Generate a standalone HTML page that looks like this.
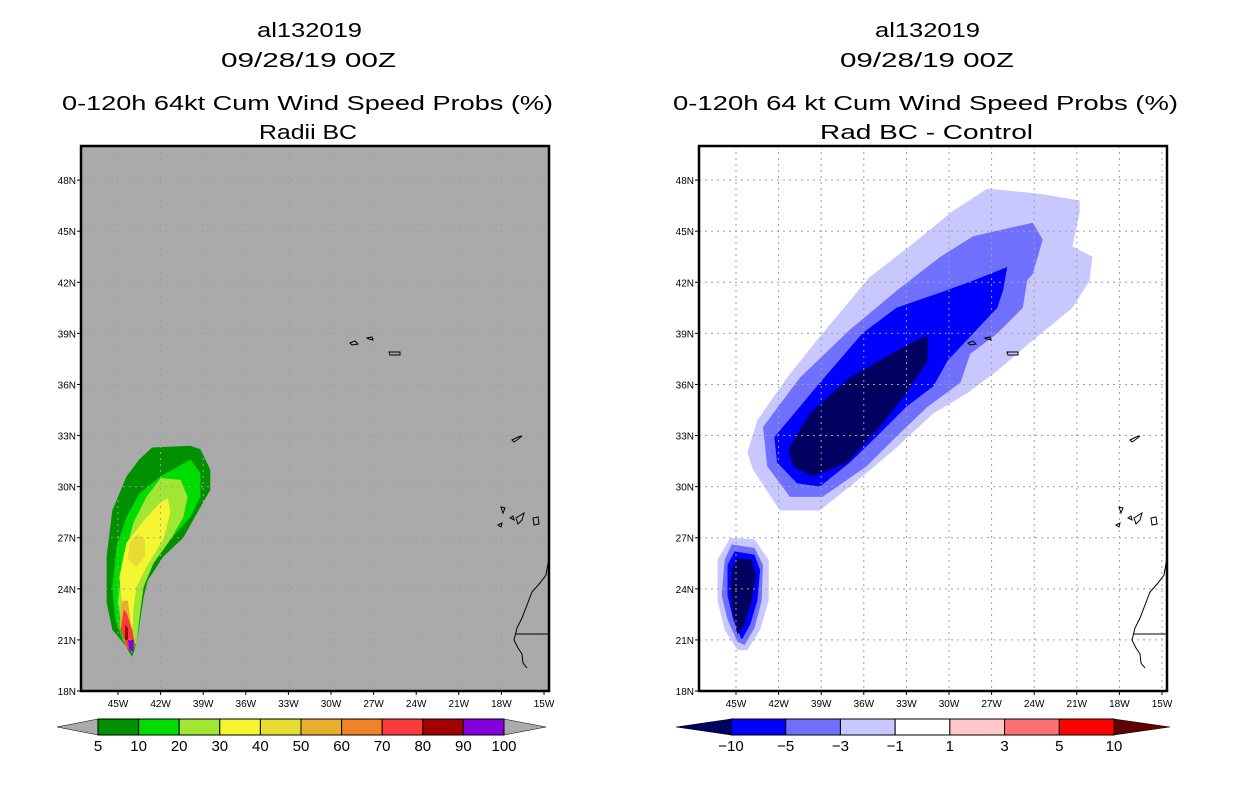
<!DOCTYPE html>
<html><head><meta charset="utf-8"><style>
html,body{margin:0;padding:0;background:#fff;}
svg{display:block;font-family:"Liberation Sans",sans-serif;}
</style></head><body>
<svg id="chart" width="1236" height="800" viewBox="0 0 1236 800" xmlns="http://www.w3.org/2000/svg"></svg>
<script>
// ---------- data ----------
const latTicks = [18,21,24,27,30,33,36,39,42,45,48];
const lonTicks = [45,42,39,36,33,30,27,24,21,18,15];
const leftLevels = ["5","10","20","30","40","50","60","70","80","90","100"];
const leftColors = ["#009000","#00dc00","#a0e632","#f5f532","#e6dc32","#e6af2d","#f08228","#fa3c3c","#a00000","#8200dc"];
const rightLevels = ["-10","-5","-3","-1","1","3","5","10"];
const rightColors = ["#0000ff","#7070ff","#c8c8ff","#ffffff","#ffc8c8","#ff7070","#ff0000"];
// contour polygons, [lonW, latN]
const p5 = [[42.6,32.3],[39.9,32.4],[39.2,32.2],[38.5,31.0],[38.5,29.8],[39.2,28.8],[40.4,27.0],[41.8,25.9],[42.9,24.5],[43.2,23.5],[43.5,21.8],[43.7,20.8],[44.0,20.0],[44.6,20.8],[45.4,21.6],[45.8,23.2],[45.8,25.9],[45.4,28.6],[44.4,30.6],[43.5,31.6]];
const p10 = [[42.0,30.6],[39.9,31.6],[39.2,30.8],[39.2,29.4],[39.9,28.2],[41.3,26.9],[42.5,25.5],[43.1,24.7],[43.3,23.5],[43.5,22.0],[43.7,20.8],[44.0,20.2],[44.7,21.0],[45.2,22.2],[45.4,24.1],[45.1,26.5],[44.4,28.2],[43.5,29.6]];
const p20 = [[42.0,30.5],[40.6,30.4],[40.1,29.4],[40.4,28.2],[41.3,26.9],[42.5,25.5],[43.2,24.1],[43.5,22.3],[43.7,20.8],[44.2,20.6],[44.7,21.6],[45.0,23.2],[44.7,25.5],[43.9,27.9],[43.0,29.4]];
const p30 = [[41.5,29.3],[41.3,28.5],[41.8,26.9],[43.0,25.3],[43.7,24.1],[43.9,22.9],[44.0,21.6],[44.4,21.6],[44.7,22.9],[44.9,24.7],[44.4,26.7],[43.2,28.0],[42.0,29.1]];
const p40 = [[43.6,27.2],[43.1,26.9],[43.1,25.9],[43.7,25.3],[44.3,25.7],[44.2,26.7]];
const p50 = [[44.7,23.3],[44.3,23.3],[44.1,21.9],[43.9,20.7],[44.4,20.5],[44.9,21.9]];
const p70 = [[44.6,22.8],[44.4,22.6],[44.0,21.6],[43.8,20.7],[44.3,20.4],[44.8,21.6]];
const p80 = [[44.5,21.9],[44.3,21.7],[44.3,21.0],[44.5,21.0]];
const p90 = [[44.3,21.0],[43.9,21.0],[43.9,20.3],[44.2,20.4]];
const n1 = [[44.2,32.0],[43.5,33.9],[41.4,36.4],[39.3,38.6],[35.6,42.3],[32.5,44.3],[29.7,46.2],[27.3,47.5],[23.6,47.2],[20.8,46.8],[20.8,46.1],[21.3,44.1],[19.9,43.5],[20.1,42.1],[21.3,40.5],[24.1,38.6],[26.6,36.8],[28.7,35.5],[31.1,34.3],[33.7,32.3],[35.8,30.8],[39.1,28.6],[41.9,28.6],[43.8,31.0]];
const n3 = [[43.1,33.5],[40.5,36.4],[37.0,39.2],[33.7,41.5],[30.6,43.5],[28.3,44.7],[24.1,45.5],[23.4,44.5],[24.1,42.5],[24.5,42.1],[24.8,40.5],[26.6,39.0],[28.5,37.8],[29.2,36.1],[31.5,34.7],[33.5,33.1],[35.8,31.2],[38.9,29.4],[41.2,29.4],[42.8,31.2]];
const n5 = [[42.3,32.9],[39.3,35.9],[36.1,39.0],[33.7,40.5],[30.6,41.4],[28.3,42.1],[25.9,42.9],[26.2,41.5],[26.6,40.5],[28.3,39.0],[30.1,37.4],[31.1,35.9],[33.0,34.7],[34.9,33.1],[37.0,31.4],[39.1,30.0],[40.7,30.2],[42.1,31.4]];
const n10 = [[41.3,32.2],[39.8,34.3],[37.0,36.4],[33.2,38.2],[31.5,38.9],[31.5,37.4],[33.0,35.5],[34.9,33.5],[37.2,31.4],[39.6,30.6],[41.0,31.2]];
const b1 = [[45.4,27.0],[43.7,26.9],[42.7,25.7],[42.7,23.3],[43.3,21.6],[44.2,20.4],[44.9,20.4],[45.8,21.6],[46.3,23.3],[46.3,25.7]];
const b3 = [[45.3,26.6],[43.7,26.4],[43.1,25.4],[43.2,23.3],[43.7,21.7],[44.4,20.7],[44.9,20.9],[45.6,22.2],[46.0,23.6],[45.8,25.7]];
const b5 = [[45.1,26.2],[43.7,26.0],[43.3,25.1],[43.5,23.3],[44.0,21.9],[44.6,21.0],[45.2,22.2],[45.6,23.6],[45.6,25.4]];
const b10 = [[44.9,25.8],[43.9,25.7],[43.6,24.8],[43.9,23.3],[44.4,21.9],[44.9,21.3],[45.2,22.5],[45.4,23.9],[45.3,25.2]];

const NS="http://www.w3.org/2000/svg";
const svg=document.getElementById('chart');
function mk(tag,attrs,parent){const e=document.createElementNS(NS,tag);for(const k in attrs)e.setAttribute(k,attrs[k]);(parent||svg).appendChild(e);return e;}

function panel(px,titles,bg,layers,cbar){
  const g=mk('g',{});
  
  
  const L=px, T=146, R=px+468, B=691;
  const xs=lon=>px+37+(45-lon)*14.2;
  const ys=lat=>691-(lat-18)*17.03;
  // titles
  titles.lines.forEach(t=>{
    const e=mk('text',{x:t[1],y:t[2],'font-size':20,textLength:t[3],lengthAdjust:'spacingAndGlyphs',fill:'#000'},g);
    e.textContent=t[0];
    
    
  });
  const bgr=mk('rect',{x:L,y:T,width:468,height:545,fill:bg},g);
  
  
  layers.forEach(ly=>{
    const p=mk('polygon',{points:ly[0].map(d=>xs(d[0]).toFixed(1)+','+ys(d[1]).toFixed(1)).join(' '),fill:ly[1]},g);
    
    
  });
  // grid
  lonTicks.forEach(lo=>{const x=xs(lo);
    const l=mk('line',{x1:x,y1:T,x2:x,y2:B,stroke:'#a0a0a0','stroke-dasharray':'2,4','stroke-width':1},g);
    
    
    mk('line',{x1:x,y1:B,x2:x,y2:B+4,stroke:'#000'},g);
    const t=mk('text',{x:x,y:B+16,'font-size':10,'text-anchor':'middle'},g);t.textContent=lo+'W';
    
    
  });
  latTicks.forEach(la=>{const y=ys(la);
    if(la>18){const l=mk('line',{x1:L,y1:y,x2:R,y2:y,stroke:'#a0a0a0','stroke-dasharray':'2,4','stroke-width':1},g);
    
    }
    mk('line',{x1:L-4,y1:y,x2:L,y2:y,stroke:'#000'},g);
    const t=mk('text',{x:L-5,y:y+4,'font-size':10,'text-anchor':'end'},g);t.textContent=la+'N';
    
    
  });
  // coastlines (map features)
  const o=px-81;
  const cst=[[[350,343],[355,341],[358,344],[352,345]],[[367,338],[372,337],[373,340],[369,339]],[[389,352],[400,352],[400,355],[390,355]],
    [[512,440],[518,437],[522,436],[517,440],[514,442]],[[501,507],[505,508],[503,513]],[[510,518],[513,516],[514,520]],[[516,518],[524,513],[522,520],[518,524]],[[533,518],[538,517],[539,524],[534,525]],[[498,525],[502,523],[501,527]]];
  cst.forEach(c=>{const p=mk('polygon',{points:c.map(d=>(d[0]+o)+','+d[1]).join(' '),fill:'none',stroke:'#000','stroke-width':1},g);
    
    });
  const coast=[[549,558],[546,575],[540,583],[532,592],[527,605],[522,618],[517,628],[514,640],[518,648],[522,654],[523,663],[527,668]];
  const cl=mk('polyline',{points:coast.map(d=>(d[0]+o)+','+d[1]).join(' '),fill:'none',stroke:'#000','stroke-width':1},g);
  
  
  mk('line',{x1:515+o,y1:634,x2:549+o,y2:634,stroke:'#000'},g);
  const fr=mk('rect',{x:L,y:T,width:468,height:545,fill:'none',stroke:'#000','stroke-width':2.5},g);
  
  
  // colorbar
  const cb=mk('g',{},g);
  
  
  const n=cbar.colors.length, w=(cbar.x1-cbar.x0)/n, y0=719, y1=735, ym=727;
  mk('polygon',{points:`${cbar.t0},${ym} ${cbar.x0},${y0} ${cbar.x0},${y1}`,fill:cbar.lt,stroke:'#000','stroke-width':0.5},cb);
  mk('polygon',{points:`${cbar.t1},${ym} ${cbar.x1},${y0} ${cbar.x1},${y1}`,fill:cbar.rt,stroke:'#000','stroke-width':0.5},cb);
  cbar.colors.forEach((c,i)=>{const r=mk('rect',{x:cbar.x0+i*w,y:y0,width:w,height:16,fill:c,stroke:'#000','stroke-width':1},cb);
    
    });
  cbar.labels.forEach((s,i)=>{const t=mk('text',{x:cbar.x0+i*w,y:751,'font-size':15,'text-anchor':'middle'},cb);t.textContent=s.replace('-','\u2212');
    
    });
}

panel(81,{name:'left-panel-radii-bc',lines:[["al132019",257,37,105],["09/28/19 00Z",221,67,175],["0-120h 64kt Cum Wind Speed Probs (%)",62,110,491],["Radii BC",259,139,98]]},'#aaaaaa',
  [[p5,leftColors[0]],[p10,leftColors[1]],[p20,leftColors[2]],[p30,leftColors[3]],[p40,leftColors[4]],[p50,leftColors[5]],[p70,leftColors[7]],[p80,leftColors[8]],[p90,leftColors[9]]],
  {x0:98,x1:504,t0:57,t1:546,lt:'#aaaaaa',rt:'#aaaaaa',colors:leftColors,labels:leftLevels});
panel(699,{name:'right-panel-rad-bc-minus-control',lines:[["al132019",875,37,105],["09/28/19 00Z",840,67,174],["0-120h 64 kt Cum Wind Speed Probs (%)",673,110,505],["Rad BC - Control",820,139,213]]},'#ffffff',
  [[n1,rightColors[2]],[n3,rightColors[1]],[n5,rightColors[0]],[n10,'#000060'],[b1,rightColors[2]],[b3,rightColors[1]],[b5,rightColors[0]],[b10,'#000060']],
  {x0:731,x1:1114,t0:676,t1:1170,lt:'#000060',rt:'#600000',colors:rightColors,labels:rightLevels});
</script>
</body></html>
